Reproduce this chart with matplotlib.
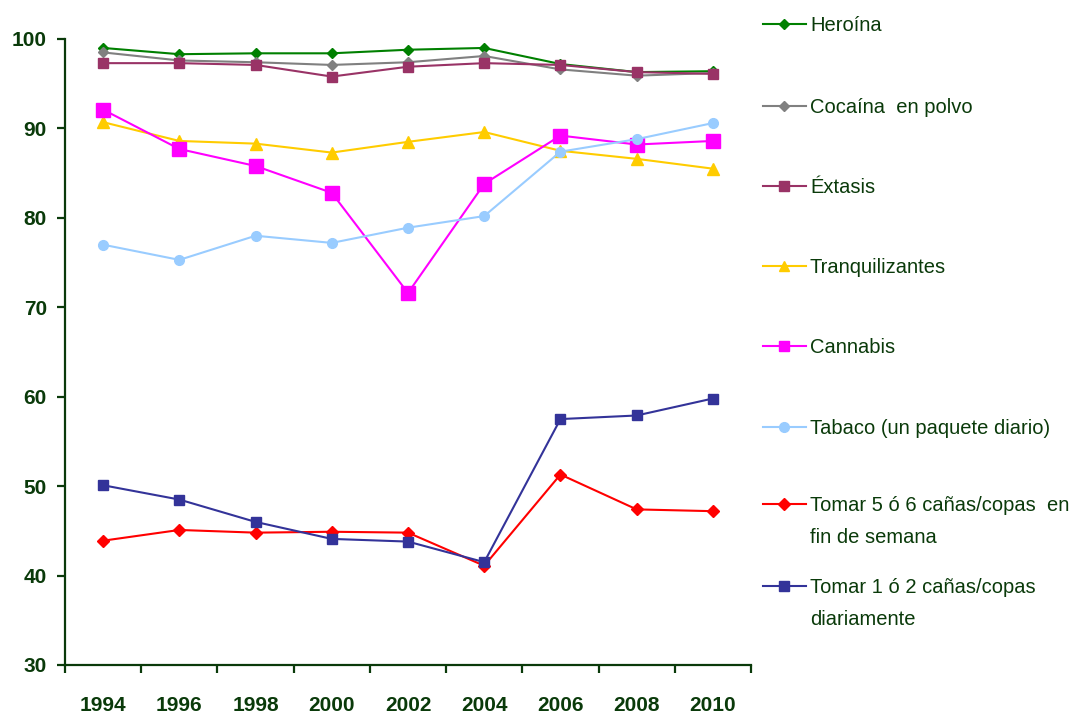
import matplotlib.pyplot as plt
import numpy as np
from matplotlib.lines import Line2D
from matplotlib.ticker import FixedLocator, NullFormatter, FixedFormatter

years = ["1994", "1996", "1998", "2000", "2002", "2004", "2006", "2008", "2010"]

heroina = [99.0, 98.3, 98.4, 98.4, 98.8, 99.0, 97.2, 96.3, 96.4]
cocaina = [98.5, 97.6, 97.4, 97.1, 97.4, 98.1, 96.6, 95.9, 96.2]
extasis = [97.3, 97.3, 97.1, 95.8, 96.9, 97.3, 97.1, 96.3, 96.1]
tranquilizantes = [90.7, 88.6, 88.3, 87.3, 88.5, 89.6, 87.5, 86.6, 85.5]
cannabis = [92.1, 87.7, 85.8, 82.8, 71.6, 83.8, 89.2, 88.2, 88.6]
tabaco = [77.0, 75.3, 78.0, 77.2, 78.9, 80.2, 87.4, 88.8, 90.6]
tomar_5_6 = [43.9, 45.1, 44.8, 44.9, 44.8, 41.1, 51.3, 47.4, 47.2]
tomar_1_2 = [50.1, 48.5, 46.0, 44.1, 43.8, 41.5, 57.5, 57.9, 59.8]

labels = [
    "Heroína",
    "Cocaína  en polvo",
    "Éxtasis",
    "Tranquilizantes",
    "Cannabis",
    "Tabaco (un paquete diario)",
    "Tomar 5 ó 6 cañas/copas  en\nfin de semana",
    "Tomar 1 ó 2 cañas/copas\ndiariamente",
]
series = [heroina, cocaina, extasis, tranquilizantes, cannabis, tabaco, tomar_5_6, tomar_1_2]

colors = ["#008000", "#808080", "#993366", "#FFCC00", "#FF00FF", "#99CCFF", "#FF0000", "#333399"]
markers = ["D", "D", "s", "^", "s", "o", "D", "s"]
msizes = [5, 5, 7, 8, 10, 7, 6, 7]

dark = "#0a3a0a"
plt.rcParams["font.family"] = ["Liberation Sans", "DejaVu Sans"]

fig = plt.figure(figsize=(10.72, 7.13), dpi=100)
W, H = 1072, 713
ax = fig.add_axes([65 / W, 1 - 665 / H, (751 - 65) / W, (665 - 39) / H])

x = np.arange(len(years))
for vals, c, m, ms in zip(series, colors, markers, msizes):
    ax.plot(x, vals, color=c, marker=m, markersize=ms, linewidth=1.5,
            markeredgecolor=c, markerfacecolor=c)

ax.set_xlim(-0.5, len(years) - 0.5)
ax.set_ylim(30, 100)
ax.set_yticks(np.arange(30, 101, 10))

# ticks on category boundaries, labels at the centres
ax.xaxis.set_major_locator(FixedLocator(np.arange(-0.5, len(years), 1.0)))
ax.xaxis.set_major_formatter(NullFormatter())
ax.xaxis.set_minor_locator(FixedLocator(x))
ax.xaxis.set_minor_formatter(FixedFormatter(years))

for s in ["top", "right"]:
    ax.spines[s].set_visible(False)
for s in ["left", "bottom"]:
    ax.spines[s].set_color(dark)
    ax.spines[s].set_linewidth(1.6)

ax.tick_params(axis="x", which="major", direction="out", length=6, width=1.6, color=dark)
ax.tick_params(axis="x", which="minor", length=0, pad=22, labelsize=15, labelcolor=dark)
ax.tick_params(axis="y", direction="out", length=6, width=1.6, color=dark, pad=7,
               labelsize=15, labelcolor=dark)
for lab in ax.get_xticklabels(minor=True) + ax.get_yticklabels():
    lab.set_fontweight("bold")

# legend drawn by hand on the right
leg_y = [24, 106, 186, 266, 346, 427, 504, 586]
for yc, lab, c, m, ms in zip(leg_y, labels, colors, markers, msizes):
    yf = 1 - yc / H
    fig.add_artist(Line2D([763 / W, 806 / W], [yf, yf], color=c, linewidth=1.5,
                          transform=fig.transFigure))
    fig.add_artist(Line2D([784 / W], [yf], color=c, marker=m, markersize=min(ms, 7),
                          transform=fig.transFigure))
    fig.text(810 / W, 1 - (yc - 8) / H, lab, va="top", ha="left", fontsize=14.5,
             color=dark, linespacing=1.85)

fig.savefig("out.png", dpi=100)
